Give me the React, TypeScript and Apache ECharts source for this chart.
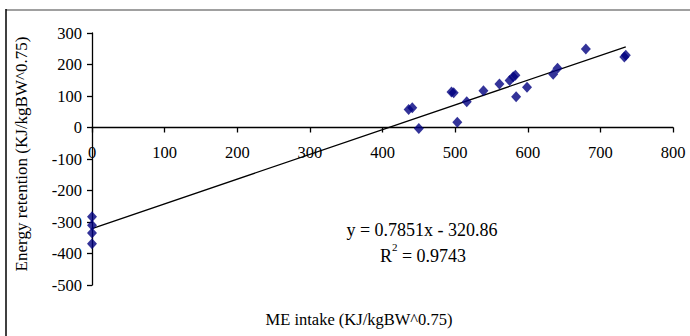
import React, { useEffect, useRef } from "react";
import * as echarts from "echarts";

const intakePoints: [number, number][] = [
  [0, -283], [0, -310], [0, -335], [0, -369],
  [436, 57], [441, 63], [450, -3], [495, 113], [498, 110], [503, 17],
  [516, 82], [539, 117], [561, 138], [575, 149], [580, 161], [583, 166],
  [584, 98], [599, 128], [635, 169], [641, 188], [680, 249], [733, 224], [735, 229],
];
const slope = 0.7851;
const intercept = -320.86;
const trendX = [0, 735];
const xTicks = { min: 0, max: 800, interval: 100 };
const yTicks = { min: -500, max: 300, interval: 100 };
const equationText = "y = 0.7851x - 320.86";
const r2Text = "0.9743";

const GRID = { left: 92, right: 17, top: 33, bottom: 51 };
const H = 336;

export default function App() {
  const ref = useRef<HTMLDivElement>(null);
  useEffect(() => {
    if (!ref.current) return;
    const chart = echarts.init(ref.current, undefined, { renderer: "svg" });
    const font = "'Liberation Serif', 'Times New Roman', serif";
    const gridH = H - GRID.top - GRID.bottom;
    const zeroFrac = (0 - yTicks.min) / (yTicks.max - yTicks.min);
    const xOffset = -zeroFrac * gridH;
    chart.setOption({
      animation: false,
      backgroundColor: "#ffffff",
      textStyle: { fontFamily: font },
      grid: { ...GRID, containLabel: false },
      xAxis: {
        type: "value",
        min: xTicks.min,
        max: xTicks.max,
        interval: xTicks.interval,
        offset: xOffset,
        axisLine: { onZero: false, lineStyle: { color: "#000", width: 1.3 } },
        axisTick: { show: true, inside: false, length: 5, lineStyle: { color: "#000", width: 1.3 } },
        axisLabel: { color: "#000", fontSize: 16.5, fontFamily: font, margin: 16 },
        splitLine: { show: false },
      },
      yAxis: {
        type: "value",
        min: yTicks.min,
        max: yTicks.max,
        interval: yTicks.interval,
        name: "Energy retention (KJ/kgBW^0.75)",
        nameLocation: "middle",
        nameGap: 62,
        nameTextStyle: { color: "#000", fontSize: 17, fontFamily: font, padding: [0, 0, 0, 10] },
        axisLine: { show: true, onZero: false, lineStyle: { color: "#000", width: 1.3 } },
        axisTick: { show: true, inside: false, length: 5, lineStyle: { color: "#000", width: 1.3 } },
        axisLabel: { color: "#000", fontSize: 16.5, fontFamily: font, margin: 10 },
        splitLine: { show: false },
      },
      series: [
        {
          type: "line",
          data: trendX.map((x) => [x, slope * x + intercept]),
          symbol: "none",
          lineStyle: { color: "#000", width: 1.3 },
          z: 3,
        },
        {
          type: "scatter",
          data: intakePoints,
          symbol: "diamond",
          symbolSize: [10, 11],
          itemStyle: { color: "#000080" },
          z: 4,
        },
      ],
      graphic: [
        {
          type: "line",
          shape: { x1: 6, y1: 10, x2: 690, y2: 10 },
          style: { stroke: "#a0a0a0", lineWidth: 2 },
        },
        {
          type: "line",
          shape: { x1: 6, y1: 9, x2: 6, y2: 336 },
          style: { stroke: "#000", lineWidth: 1.5 },
        },
        {
          type: "text",
          x: 359,
          y: 319,
          style: {
            text: "ME intake (KJ/kgBW^0.75)",
            fill: "#000",
            font: `16.5px ${font}`,
            align: "center",
            verticalAlign: "middle",
          },
        },
        {
          type: "text",
          x: 422,
          y: 230,
          style: {
            text: equationText,
            fill: "#000",
            font: `18px ${font}`,
            align: "center",
            verticalAlign: "middle",
          },
        },
        {
          type: "text",
          x: 423,
          y: 253,
          style: {
            text: `{a|R}{s|2}{a| = ${r2Text}}`,
            fill: "#000",
            align: "center",
            verticalAlign: "middle",
            rich: {
              a: { fontSize: 18, fontFamily: font, fill: "#000", lineHeight: 24, verticalAlign: "bottom" },
              s: { fontSize: 11, fontFamily: font, fill: "#000", lineHeight: 12, verticalAlign: "top" },
            },
          },
        },
      ],
    });
    return () => chart.dispose();
  }, []);
  return (
    <div
      ref={ref}
      style={{ position: "absolute", left: 0, top: 0, width: 690, height: 336 }}
    />
  );
}
